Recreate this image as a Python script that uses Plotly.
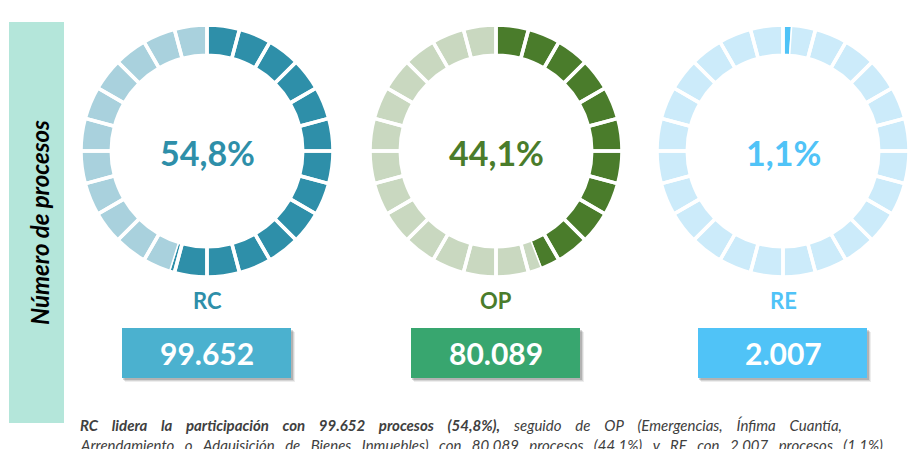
import plotly.graph_objects as go

W, H = 920, 449

# data
categories = ["RC", "OP", "RE"]
percents = [54.8, 44.1, 1.1]
counts = ["99.652", "80.089", "2.007"]
pct_labels = ["54,8%", "44,1%", "1,1%"]

COLORS = {
    "RC": {"dark": "#2E8FA9", "light": "#A9D1DD", "box": "#4BB1CF", "label": "#2E8FA9"},
    "OP": {"dark": "#4A7C2B", "light": "#C9D8C0", "box": "#38A66F", "label": "#4A7C2B"},
    "RE": {"dark": "#4FC3F7", "light": "#CCEBFA", "box": "#50C3F7", "label": "#50C3F7"},
}
N_SEG = 24


def px(x):
    return x / W


def py(y):
    return 1 - y / H


def note(x, y, text, size, color, **kw):
    return dict(x=px(x), y=py(y), xref="paper", yref="paper", text=text,
                showarrow=False, xanchor=kw.pop("xanchor", "center"), yanchor="middle",
                font=dict(family="Lato", size=size, color=color), **kw)


centers_x = [207, 496, 783]
cy, r = 151, 126

fig = go.Figure()
shapes = []
annotations = []

for cat, pct, cnt, lab, cx in zip(categories, percents, counts, pct_labels, centers_x):
    c = COLORS[cat]
    dom = dict(x=[px(cx - r), px(cx + r)], y=[py(cy + r), py(cy - r)])
    # filled share vs remainder
    fig.add_trace(go.Pie(
        values=[pct, 100 - pct],
        marker=dict(colors=[c["dark"], c["light"]], line=dict(color="white", width=1.5)),
        hole=0.76, sort=False, direction="clockwise", rotation=0,
        textinfo="none", hoverinfo="skip", showlegend=False, domain=dom,
    ))
    # white separators for the 24 segments
    fig.add_trace(go.Pie(
        values=[1] * N_SEG,
        marker=dict(colors=["rgba(0,0,0,0)"] * N_SEG, line=dict(color="white", width=3.5)),
        hole=0.76, sort=False, direction="clockwise", rotation=0,
        textinfo="none", hoverinfo="skip", showlegend=False, domain=dom,
    ))
    annotations.append(note(cx, cy + 2, f"<b>{lab}</b>", 34, c["label"]))
    annotations.append(note(cx, 300, f"<b>{cat}</b>", 22, c["label"]))
    # value box with soft shadow
    x0, x1, y0, y1 = cx - 85, cx + 84, 328, 378
    for off, op in [(4, 0.07), (3, 0.1), (2, 0.16)]:
        shapes.append(dict(
            type="rect", xref="paper", yref="paper",
            x0=px(x0 + off - 1), x1=px(x1 + off), y0=py(y1 + off), y1=py(y0 + off),
            fillcolor=f"rgba(0,0,0,{op})", line=dict(width=0), layer="below",
        ))
    shapes.append(dict(
        type="rect", xref="paper", yref="paper",
        x0=px(x0), x1=px(x1), y0=py(y1), y1=py(y0),
        fillcolor=c["box"], line=dict(width=0), layer="below",
    ))
    annotations.append(note(cx, 353, f"<b>{cnt}</b>", 30, "white"))

# side label bar
shapes.append(dict(
    type="rect", xref="paper", yref="paper",
    x0=px(9), x1=px(64), y0=py(423), y1=py(22),
    fillcolor="#B4E6DA", line=dict(width=0), layer="below",
))
annotations.append(note(39, 223, "<b><i>Número de procesos</i></b>", 24, "black",
                        textangle=-90))

# footnote (spaces widened to mimic the justified paragraph)
sp1 = " \u2003"
sp2 = " \u2002"
line1 = (("<b><i>" + sp1.join("RC lidera la participación con 99.652 procesos (54,8%),".split())
          + "</i></b><i>" + sp1 + sp1.join("seguido de OP (Emergencias, Ínfima Cuantía,".split())
          + "</i>"))
line2 = ("<i>" + sp2.join(("Arrendamiento o Adquisición de Bienes Inmuebles) con 80.089 procesos "
                           "(44,1%) y RE con 2.007 procesos (1,1%).").split()) + "</i>")
annotations.append(note(78, 425, line1, 15, "#404040", xanchor="left"))
annotations.append(note(78, 445, line2, 15, "#404040", xanchor="left"))

fig.update_layout(
    width=W, height=H,
    margin=dict(l=0, r=0, t=0, b=0),
    paper_bgcolor="white", plot_bgcolor="white",
    shapes=shapes, annotations=annotations,
)
fig.write_html("out.html", config={"displayModeBar": False},
               post_script="document.body.style.margin='0';")
